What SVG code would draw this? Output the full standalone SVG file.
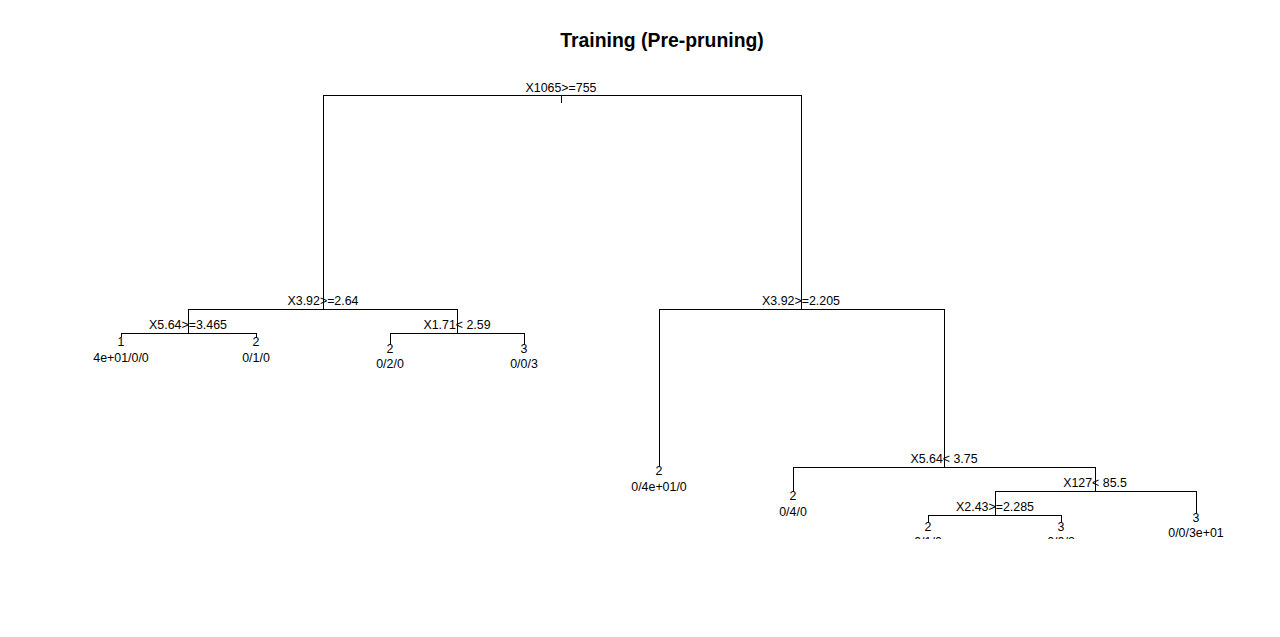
<svg xmlns="http://www.w3.org/2000/svg" width="1280" height="637" viewBox="0 0 1280 637">
<style>
.e{fill:none;stroke:#000;stroke-width:1;shape-rendering:crispEdges}
text{font-family:"Liberation Sans",Arial,sans-serif;font-size:12.4px;fill:#000;text-anchor:middle}
.t{font-size:19.4px;font-weight:bold}
</style>
<defs>
<clipPath id="plot"><rect x="0" y="0" width="1280" height="539"/></clipPath>
</defs>
<rect width="1280" height="637" fill="#fff"/>
<text class="t" x="662" y="47">Training (Pre-pruning)</text>
<g id="connectors" class="e">
<path d="M561.5 95.5V103"/>
<path d="M323.5 309V95.5H801.5V309"/>
<path d="M188.5 333V309.5H457.5V333"/>
<path d="M121.5 337V333.5H256.5V337"/>
<path d="M390.5 344V333.5H524.5V344"/>
<path d="M659.5 466V309.5H944.5V467"/>
<path d="M793.5 491V467.5H1095.5V491"/>
<path d="M995.5 515V491.5H1196.5V513"/>
<path d="M928.5 522V515.5H1061.5V522"/>
</g>
<g id="n1"><text x="561" y="92">X1065&gt;=755</text></g>
<g id="n2"><text x="323" y="305">X3.92&gt;=2.64</text></g>
<g id="n4"><text x="188" y="329">X5.64&gt;=3.465</text></g>
<g id="n8"><text x="121" y="346">1</text><text x="121" y="362">4e+01/0/0</text></g>
<g id="n9"><text x="256" y="346">2</text><text x="256" y="362">0/1/0</text></g>
<g id="n5"><text x="457" y="329">X1.71&lt; 2.59</text></g>
<g id="n10"><text x="390" y="353">2</text><text x="390" y="368">0/2/0</text></g>
<g id="n11"><text x="524" y="353">3</text><text x="524" y="368">0/0/3</text></g>
<g id="n3"><text x="801" y="305">X3.92&gt;=2.205</text></g>
<g id="n6"><text x="659" y="475">2</text><text x="659" y="491">0/4e+01/0</text></g>
<g id="n7"><text x="944" y="463">X5.64&lt; 3.75</text></g>
<g id="n14"><text x="793" y="500">2</text><text x="793" y="516">0/4/0</text></g>
<g id="n15"><text x="1095" y="487">X127&lt; 85.5</text></g>
<g id="n30"><text x="995" y="511">X2.43&gt;=2.285</text></g>
<g id="n31"><text x="1196" y="522">3</text><text x="1196" y="537" clip-path="url(#plot)">0/0/3e+01</text></g>
<g id="n60"><text x="928" y="531">2</text><text x="928" y="546" clip-path="url(#plot)">0/1/0</text></g>
<g id="n61"><text x="1061" y="531">3</text><text x="1061" y="546" clip-path="url(#plot)">0/0/2</text></g>
</svg>
